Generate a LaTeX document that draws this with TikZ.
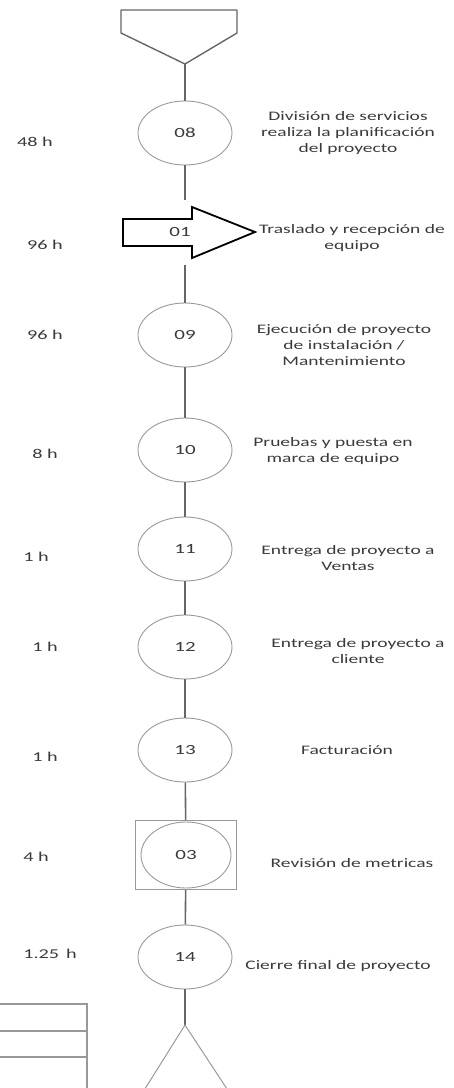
\documentclass[tikz,border=0pt]{standalone}
\usepackage{fontspec}
\setmainfont{Carlito}[FakeStretch=1.5]
\usetikzlibrary{shapes.geometric}
\definecolor{linea}{HTML}{666666}
\definecolor{borde}{HTML}{999999}
\definecolor{texto}{HTML}{3A3A3A}

\begin{document}
\begin{tikzpicture}[x=1pt, y=-1pt,
        paso/.style={ellipse, draw=borde, line width=0.9pt, minimum width=94pt, minimum height=64pt, inner sep=0pt, text=texto, font=\fontsize{14}{16}\selectfont},
        conector/.style={draw=linea, line width=1.6pt},
        tiempo/.style={text=texto, font=\fontsize{13.5}{16}\selectfont},
        desc/.style={text=texto, align=center, font=\fontsize{13}{16}\selectfont}]
        \useasboundingbox (0,0) rectangle (453,1088);

        % Inicio: almacen superior
        \draw[linea, line width=1.4pt, line join=round] (121,10) -- (237,10) -- (237,33) -- (185,64) -- (121,33) -- cycle;
        \coordinate (inicio) at (185,64);

        % Pasos del proceso
        \node[paso] (c08) at (185,133) {08};
        \draw[line width=1.8pt, line join=miter] (123,219) -- (192,219) -- (192,207) -- (255,232) -- (192,258) -- (192,246) -- (123,246) -- cycle;
        \node[text=texto, font=\fontsize{14}{16}\selectfont] (n01) at (180,232) {01};
        \coordinate (a01arriba) at (185,200);
        \coordinate (a01abajo) at (185,265);
        \node[paso] (c09) at (185,335) {09};
        \node[paso] (c10) at (185,450) {10};
        \node[paso] (c11) at (185,549) {11};
        \node[paso] (c12) at (185,647) {12};
        \node[paso] (c13) at (185,750) {13};
        \node[draw=borde, line width=0.9pt, minimum width=101pt, minimum height=69pt, inner sep=0pt] (r03) at (186,855) {};
        \node[paso, minimum width=90pt, minimum height=66pt] (c03) at (186,855) {03};
        \node[paso] (c14) at (185,957) {14};
        \coordinate (fin) at (185,1025);

        % Conectores
        \draw[conector] (inicio) -- (c08);
        \draw[conector] (c08) -- (a01arriba);
        \draw[conector] (a01abajo) -- (c09);
        \draw[conector] (c09) -- (c10);
        \draw[conector] (c10) -- (c11);
        \draw[conector] (c11) -- (c12);
        \draw[conector] (c12) -- (c13);
        \draw[conector] (c13) -- (r03);
        \draw[conector] (r03) -- (c14);
        \draw[conector] (c14) -- (fin);

        % Fin: almacen inferior
        \draw[borde, line width=1pt] (143,1092) -- (fin) -- (229,1092);

        % Tabla (cortada)
        \draw[borde, line width=1.3pt] (0,1004) -- (87,1004) -- (87,1092);
        \draw[borde, line width=1.3pt] (0,1031) -- (87,1031);
        \draw[borde, line width=1.3pt] (0,1057) -- (87,1057);

        % Tiempos
        \node[tiempo] (t08) at (35,142) {48 h};
        \node[tiempo] (t01) at (45,245) {96 h};
        \node[tiempo] (t09) at (45,335) {96 h};
        \node[tiempo] (t10) at (45,454) {8 h};
        \node[tiempo] (t11) at (36,557) {1 h};
        \node[tiempo] (t12) at (45,647) {1 h};
        \node[tiempo] (t13) at (45,757) {1 h};
        \node[tiempo] (t03) at (36,857) {4 h};
        \node[tiempo] (t14) at (50,954) {1.25\,\ h};

        % Descripciones
        \node[desc] (d08) at (348,133) {División de servicios\\realiza la planificación\\del proyecto};
        \node[desc] (d01) at (352,238) {Traslado y recepción de\\equipo};
        \node[desc] (d09) at (344,345) {Ejecución de proyecto\\de instalación /\\Mantenimiento};
        \node[desc] (d10) at (333,451) {Pruebas y puesta en\\marca de equipo};
        \node[desc] (d11) at (348,558) {Entrega de proyecto a\\Ventas};
        \node[desc] (d12) at (358,651) {Entrega de proyecto a\\cliente};
        \node[desc] (d13) at (347,750) {Facturación};
        \node[desc] (d03) at (352,863) {Revisión de metricas};
        \node[desc] (d14) at (338,966) {Cierre final de proyecto};
\end{tikzpicture}
\end{document}
